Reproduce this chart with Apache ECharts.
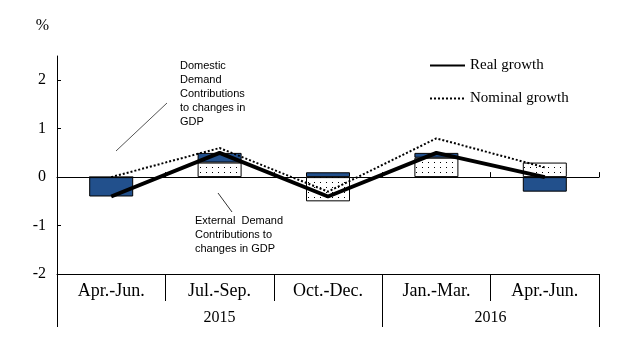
<!DOCTYPE html>
<html><head><meta charset="utf-8">
<script src="https://cdn.jsdelivr.net/npm/echarts@6/dist/echarts.min.js"></script>
<style>html,body{margin:0;padding:0;background:#fff}#c{width:629px;height:346px}</style>
</head><body><div id="c"></div>
<script>
const categories = ['Apr.-Jun.', 'Jul.-Sep.', 'Oct.-Dec.', 'Jan.-Mar.', 'Apr.-Jun.'];
const years = ['2015', '2016'];
const externalDemand = [0.0, 0.3, -0.5, 0.4, 0.3];
const domesticDemand = [-0.4, 0.2, 0.1, 0.1, -0.3];
const realGrowth = [-0.4, 0.5, -0.4, 0.5, 0.0];
const nominalGrowth = [0.0, 0.6, -0.3, 0.8, 0.2];
const yTicks = [-2, -1, 0, 1, 2];

function dotPattern() {
  const c = document.createElement('canvas');
  c.width = 6; c.height = 5;
  const g = c.getContext('2d');
  g.fillStyle = '#fff'; g.fillRect(0, 0, 6, 5);
  g.fillStyle = '#000'; g.fillRect(2, 2, 1, 1);
  return c;
}
const serif = 'Liberation Serif';
const chart = echarts.init(document.getElementById('c'), null, {renderer: 'canvas'});
chart.setOption({
  animation: false,
  backgroundColor: '#fff',
  grid: {left: 57, right: 30, top: 56, bottom: 72, containLabel: false},
  legend: {
    data: ['Real growth', 'Nominal growth'],
    orient: 'vertical', left: 424, top: 53, itemWidth: 35, itemHeight: 14, itemGap: 18,
    itemStyle: {opacity: 0},
    textStyle: {fontFamily: serif, fontSize: 15, color: '#000'}
  },
  xAxis: [
    {
      type: 'category', data: categories, position: 'bottom',
      axisLine: {show: true, onZero: false, lineStyle: {color: '#000', width: 1}},
      axisTick: {show: true, interval: 0, length: 27, lineStyle: {color: '#000'}},
      axisLabel: {interval: 0, margin: 8, fontFamily: serif, fontSize: 18, color: '#000'},
      splitLine: {show: false}
    },
    {
      type: 'value', min: 0, max: 5, position: 'bottom',
      axisLine: {show: false, onZero: false},
      axisTick: {show: true, customValues: [0, 3, 5], length: 53, lineStyle: {color: '#000'}},
      axisLabel: {show: true, customValues: [1.5, 4], margin: 36, fontFamily: serif, fontSize: 16, color: '#000',
        formatter: v => (v < 3 ? years[0] : years[1])},
      splitLine: {show: false}
    },
    {
      type: 'category', data: categories, position: 'bottom',
      axisLine: {show: true, onZero: true, lineStyle: {color: '#000', width: 1}},
      axisTick: {show: true, inside: true, interval: 0, length: 5, lineStyle: {color: '#000'}},
      axisLabel: {show: false},
      splitLine: {show: false}
    }
  ],
  yAxis: {
    type: 'value', min: -2, max: 2.5,
    name: '%', nameLocation: 'end', nameGap: 22,
    nameTextStyle: {fontFamily: serif, fontSize: 16, color: '#000', align: 'right', padding: [0, 8, 0, 0]},
    axisLine: {show: true, lineStyle: {color: '#000', width: 1}},
    axisTick: {show: true, inside: true, length: 4, customValues: yTicks, lineStyle: {color: '#000'}},
    axisLabel: {customValues: yTicks, margin: 11, fontFamily: serif, fontSize: 16, color: '#000'},
    splitLine: {show: false}
  },
  series: [
    {
      name: 'External Demand', type: 'bar', stack: 'gdp', barWidth: 44, data: externalDemand,
      itemStyle: {color: {image: dotPattern(), repeat: 'repeat'}, borderColor: '#000', borderWidth: 1}, z: 2
    },
    {
      name: 'Domestic Demand', type: 'bar', stack: 'gdp', barWidth: 44, data: domesticDemand,
      itemStyle: {color: '#22508c', borderColor: '#000', borderWidth: 1}, z: 2
    },
    {
      name: 'Real growth', type: 'line', data: realGrowth, symbol: 'none', z: 4,
      lineStyle: {color: '#000', width: 4}, itemStyle: {color: '#000'}
    },
    {
      name: 'Nominal growth', type: 'line', data: nominalGrowth, symbol: 'none', z: 3,
      lineStyle: {color: '#000', width: 2, type: [2, 2]}, itemStyle: {color: '#000'}
    }
  ],
  graphic: [
    {type: 'text', left: 180, top: 59, style: {text: 'Domestic\nDemand\nContributions\nto changes in\nGDP',
      font: '11px "Liberation Sans"', lineHeight: 14, fill: '#000'}},
    {type: 'line', shape: {x1: 116, y1: 151, x2: 167, y2: 103}, style: {stroke: '#555', lineWidth: 1}},
    {type: 'text', left: 195, top: 214, style: {text: 'External  Demand\nContributions to\nchanges in GDP',
      font: '11px "Liberation Sans"', lineHeight: 14, fill: '#000'}},
    {type: 'line', shape: {x1: 218, y1: 193, x2: 232, y2: 212}, style: {stroke: '#333', lineWidth: 1}}
  ]
});
</script>
</body></html>
